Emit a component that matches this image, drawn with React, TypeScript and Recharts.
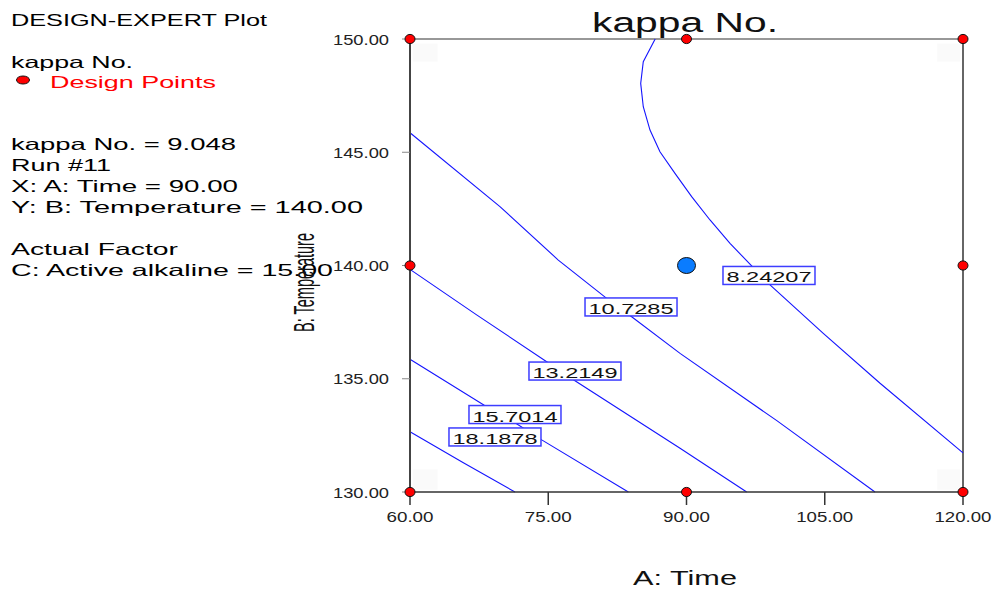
import React from 'react';
import {
  ComposedChart,
  XAxis,
  YAxis,
  Line,
  Scatter,
  ReferenceLine,
  ReferenceDot,
  ReferenceArea,
} from 'recharts';

const FONT = '"Liberation Sans", Arial, sans-serif';
const ADJ = 'spacingAndGlyphs';

const xTicks = [60, 75, 90, 105, 120];
const yTicks = [130, 135, 140, 145, 150];

const contour8 = [
  { x: 86.6, y: 150 },
  { x: 85.31, y: 149.0 },
  { x: 85.03, y: 148.04 },
  { x: 85.31, y: 147.01 },
  { x: 86.04, y: 145.98 },
  { x: 87.12, y: 145.02 },
  { x: 88.75, y: 144.07 },
  { x: 90.56, y: 143.04 },
  { x: 92.55, y: 142.01 },
  { x: 94.72, y: 140.98 },
  { x: 97.07, y: 139.98 },
  { x: 99.06, y: 139.14 },
  { x: 104.84, y: 137.0 },
  { x: 111.0, y: 134.8 },
  { x: 120, y: 131.73 },
];
const contour10 = [
  { x: 60, y: 145.86 },
  { x: 69.76, y: 142.6 },
  { x: 76.09, y: 140.24 },
  { x: 81.34, y: 138.55 },
  { x: 84.05, y: 137.74 },
  { x: 89.3, y: 136.12 },
  { x: 99.8, y: 133.15 },
  { x: 110.45, y: 130 },
];
const contour13 = [
  { x: 60, y: 139.83 },
  { x: 67.23, y: 137.82 },
  { x: 74.83, y: 135.75 },
  { x: 77.9, y: 134.91 },
  { x: 89.3, y: 131.93 },
  { x: 96.53, y: 130 },
];
const contour15 = [
  { x: 60, y: 135.86 },
  { x: 68.14, y: 133.81 },
  { x: 71.39, y: 133.06 },
  { x: 74.29, y: 132.3 },
  { x: 83.69, y: 130 },
];
const contour18 = [
  { x: 60, y: 132.66 },
  { x: 65.79, y: 131.29 },
  { x: 71.39, y: 130 },
];

const designPoints = [
  { x: 60, y: 150 },
  { x: 90, y: 150 },
  { x: 120, y: 150 },
  { x: 60, y: 140 },
  { x: 120, y: 140 },
  { x: 60, y: 130 },
  { x: 90, y: 130 },
  { x: 120, y: 130 },
];
const currentPoint = [{ x: 90, y: 140 }];

const contourLabels = [
  { x: 98.95, y: 139.56, text: '8.24207' },
  { x: 83.98, y: 138.17, text: '10.7285' },
  { x: 77.9, y: 135.34, text: '13.2149' },
  { x: 71.39, y: 133.42, text: '15.7014' },
  { x: 69.22, y: 132.43, text: '18.1878' },
];

const cornerBoxes = [
  { x1: 60.3, x2: 63.0, y1: 149.0, y2: 149.8 },
  { x1: 117.2, x2: 119.7, y1: 149.0, y2: 149.8 },
  { x1: 60.3, x2: 63.0, y1: 130.1, y2: 131.0 },
  { x1: 117.2, x2: 119.7, y1: 130.1, y2: 131.0 },
];

const infoLines = [
  { text: 'DESIGN-EXPERT Plot', x: 11, y: 26, w: 256, color: '#000' },
  { text: 'kappa No.', x: 11, y: 68.3, w: 122, color: '#000' },
  { text: 'Design Points', x: 50, y: 87.7, w: 166, color: '#ff0000' },
  { text: 'kappa No. = 9.048', x: 11, y: 150, w: 225, color: '#000' },
  { text: 'Run #11', x: 11, y: 170.7, w: 100, color: '#000' },
  { text: 'X: A: Time = 90.00', x: 11, y: 192.3, w: 227, color: '#000' },
  { text: 'Y: B: Temperature  = 140.00', x: 11, y: 212.7, w: 352, color: '#000' },
  { text: 'Actual Factor', x: 11, y: 255, w: 167, color: '#000' },
  { text: 'C: Active alkaline  = 15.00', x: 11, y: 276, w: 322, color: '#000' },
];

const YTick = (props: any) => {
  const { x, y, payload } = props;
  return (
    <text x={x} y={y} dy={5.5} textAnchor="end" fontFamily={FONT} fontSize={14.5} fill="#222" textLength={56} lengthAdjust={ADJ}>
      {Number(payload.value).toFixed(2)}
    </text>
  );
};

const XTick = (props: any) => {
  const { x, y, payload } = props;
  const s = Number(payload.value).toFixed(2);
  return (
    <text x={x} y={y} dy={15} textAnchor="middle" fontFamily={FONT} fontSize={15} fill="#222" textLength={s.length === 6 ? 57 : 47} lengthAdjust={ADJ}>
      {s}
    </text>
  );
};

const RedDot = (props: any) => {
  const { cx, cy } = props;
  return <ellipse cx={cx} cy={cy} rx={5} ry={4.6} fill="#ff0000" stroke="#111" strokeWidth={1} />;
};

const BlueDot = (props: any) => {
  const { cx, cy } = props;
  return <ellipse cx={cx} cy={cy} rx={9} ry={8} fill="#0a7cff" stroke="#111" strokeWidth={1} />;
};

const makeLabel = (text: string) => (props: any) => {
  const { cx, cy } = props;
  return (
    <g>
      <rect x={cx - 46} y={cy - 9} width={92} height={18} fill="#ffffff" stroke="#3d3dff" strokeWidth={1.5} />
      <text x={cx} y={cy + 7} textAnchor="middle" fontFamily={FONT} fontSize={15.5} fill="#111" textLength={85} lengthAdjust={ADJ}>
        {text}
      </text>
    </g>
  );
};

const lineStyle = { stroke: '#1414ff', strokeWidth: 1.1 };

export default function App() {
  return (
    <div style={{ position: 'absolute', left: 0, top: 0, width: 995, height: 589, background: '#fff' }}>
      <ComposedChart width={995} height={589} margin={{ top: 39, right: 32, bottom: 57, left: 350 }}>
        <XAxis
          type="number"
          dataKey="x"
          domain={[60, 120]}
          ticks={xTicks}
          height={40}
          tickSize={13}
          tickMargin={2}
          tick={<XTick />}
          axisLine={{ stroke: '#333', strokeWidth: 1.5 }}
          tickLine={{ stroke: '#333', strokeWidth: 1.5 }}
          interval={0}
        />
        <YAxis
          type="number"
          dataKey="y"
          domain={[130, 150]}
          ticks={yTicks}
          width={60}
          tickSize={8}
          tickMargin={13}
          tick={<YTick />}
          axisLine={{ stroke: '#444', strokeWidth: 2 }}
          tickLine={{ stroke: '#888', strokeWidth: 1 }}
          interval={0}
        />
        {cornerBoxes.map((b, i) => (
          <ReferenceArea key={'c' + i} x1={b.x1} x2={b.x2} y1={b.y1} y2={b.y2} fill="#fafafa" fillOpacity={1} stroke="none" />
        ))}
        <ReferenceLine y={150} stroke="#333" strokeWidth={1.2} />
        <ReferenceLine x={120} stroke="#666" strokeWidth={2} />
        <Line data={contour8} dataKey="y" type="linear" dot={false} activeDot={false} isAnimationActive={false} {...lineStyle} />
        <Line data={contour10} dataKey="y" type="linear" dot={false} activeDot={false} isAnimationActive={false} {...lineStyle} />
        <Line data={contour13} dataKey="y" type="linear" dot={false} activeDot={false} isAnimationActive={false} {...lineStyle} />
        <Line data={contour15} dataKey="y" type="linear" dot={false} activeDot={false} isAnimationActive={false} {...lineStyle} />
        <Line data={contour18} dataKey="y" type="linear" dot={false} activeDot={false} isAnimationActive={false} {...lineStyle} />
        {contourLabels.map((l, i) => (
          <ReferenceDot key={'l' + i} x={l.x} y={l.y} r={1} shape={makeLabel(l.text)} />
        ))}
        <Scatter data={designPoints} dataKey="y" shape={<RedDot />} isAnimationActive={false} />
        <Scatter data={currentPoint} dataKey="y" shape={<BlueDot />} isAnimationActive={false} />
      </ComposedChart>
      <svg
        width={995}
        height={589}
        style={{ position: 'absolute', left: 0, top: 0, pointerEvents: 'none' }}
      >
        <text x={685} y={31.5} textAnchor="middle" fontFamily={FONT} fontSize={27} fill="#111" textLength={186} lengthAdjust={ADJ}>
          kappa No.
        </text>
        <text x={685} y={585} textAnchor="middle" fontFamily={FONT} fontSize={20} fill="#111" textLength={104} lengthAdjust={ADJ}>
          A: Time
        </text>
        {infoLines.map((l, i) => (
          <text key={i} x={l.x} y={l.y} fontFamily={FONT} fontSize={16.5} fill={l.color} textLength={l.w} lengthAdjust={ADJ}>
            {l.text}
          </text>
        ))}
        <ellipse cx={23} cy={80} rx={6.5} ry={4} fill="#ff0000" stroke="#111" strokeWidth={1} />
        <text
          transform="translate(314,282.5) rotate(-90)"
          textAnchor="middle"
          fontFamily={FONT}
          fontSize={30}
          fill="#111"
          textLength={99}
          lengthAdjust={ADJ}
        >
          B: Temperature
        </text>
      </svg>
    </div>
  );
}
